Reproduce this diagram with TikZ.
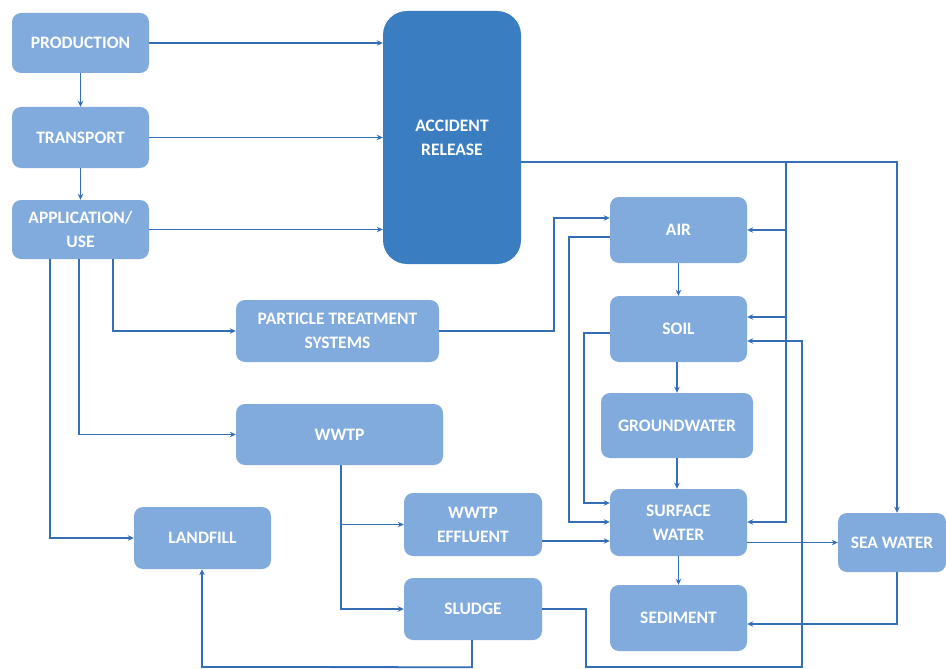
\documentclass[tikz,border=0pt]{standalone}
\usepackage{fontspec}
\setmainfont{Carlito}
\usetikzlibrary{arrows.meta,calc}
\definecolor{boxlight}{RGB}{128,171,220}
\definecolor{boxdark}{RGB}{58,125,192}
\definecolor{linec}{RGB}{52,110,182}
\tikzset{
  bx/.style={draw=none,fill=boxlight,rounded corners=9pt,text=white,align=center,
    font=\bfseries\fontsize{17.5}{24}\selectfont,inner sep=0pt},
  conn/.style={draw=linec,line width=1.8pt},
  arr/.style={conn,-{Stealth[length=6pt,width=5.5pt]}},
}
\begin{document}
\begin{tikzpicture}[x=1pt,y=-1pt]
\useasboundingbox (0,0) rectangle (946,669);
\fill[white] (0,0) rectangle (946,669);
% nodes
\node[bx,minimum width=137pt,minimum height=60pt] (prod) at (80.5,43) {PRODUCTION};
\node[bx,minimum width=137pt,minimum height=61pt] (trans) at (80.5,137.5) {TRANSPORT};
\node[bx,minimum width=137pt,minimum height=59pt] (app) at (80.5,229.5) {APPLICATION/\\USE};
\node[bx,fill=boxdark,rounded corners=24pt,minimum width=138pt,minimum height=253pt] (acc) at (452,137.5) {ACCIDENT\\RELEASE};
\node[bx,minimum width=203pt,minimum height=62pt] (pts) at (337.5,331) {PARTICLE TREATMENT\\SYSTEMS};
\node[bx,minimum width=207pt,minimum height=61pt] (wwtp) at (339.5,434.5) {WWTP};
\node[bx,minimum width=137pt,minimum height=62pt] (land) at (202.5,538) {LANDFILL};
\node[bx,minimum width=138pt,minimum height=63pt] (eff) at (473,524.5) {WWTP\\EFFLUENT};
\node[bx,minimum width=138pt,minimum height=62pt] (sludge) at (473,609) {SLUDGE};
\node[bx,minimum width=137pt,minimum height=66pt] (air) at (678.5,230) {AIR};
\node[bx,minimum width=137pt,minimum height=66pt] (soil) at (678.5,329) {SOIL};
\node[bx,minimum width=152pt,minimum height=65pt] (gw) at (677,425.5) {GROUNDWATER};
\node[bx,minimum width=137pt,minimum height=67pt] (sw) at (678.5,522.5) {SURFACE\\WATER};
\node[bx,minimum width=137pt,minimum height=66pt] (sed) at (678.5,618) {SEDIMENT};
\node[bx,minimum width=108pt,minimum height=59pt] (sea) at (892,542.5) {SEA WATER};
% left chain
\draw[arr] (prod.south) -- (trans.north);
\draw[arr] (trans.south) -- (app.north);
\draw[arr] (prod.east) -- (prod.east -| acc.west);
\draw[arr] (trans.east) -- (trans.east -| acc.west);
\draw[arr] (app.east) -- (app.east -| acc.west);
\draw[arr] ($(app.south)+(-30.5,0)$) |- (land.west);
\draw[arr] ($(app.south)+(-1.5,0)$) |- (wwtp.west);
\draw[arr] ($(app.south)+(32.5,0)$) |- (pts.west);
% PTS to air
\coordinate (ptsa) at (554,331);
\draw[arr] (pts.east) -- (ptsa) |- ($(air.west)+(0,-12)$);
% air to surface water
\coordinate (airl) at (569,237);
\draw[arr] ($(air.west)+(0,7)$) -- (airl) |- ($(sw.west)+(0,-0.5)$);
% soil to surface water
\coordinate (soill) at (584,333);
\draw[arr] ($(soil.west)+(0,4)$) -- (soill) |- ($(sw.west)+(0,-19.5)$);
% effluent to surface water
\draw[arr] ($(eff.east)+(0,16.5)$) -- ($(sw.west)+(0,18.5)$);
% vertical chain
\draw[arr] (air.south) -- (soil.north);
\draw[arr] ($(soil.south)+(-1.5,0)$) -- (gw.north);
\draw[arr] (gw.south) -- ($(sw.north)+(-1.5,0)$);
\draw[arr] (sw.south) -- (sed.north);
% WWTP split
\coordinate (wsplit) at (341,465);
\draw[arr] (wwtp.south -| wsplit) |- (eff.west);
\draw[arr] (wwtp.south -| wsplit) |- (sludge.west);
% surface water to sea
\draw[arr] (sea.west -| sw.east) -- (sea.west);
% sea to sediment
\draw[arr] ($(sea.south)+(5,0)$) |- ($(sed.east)+(0,6)$);
% accident release distribution
\coordinate (accr) at (897,162);
\coordinate (br) at (786,162);
\draw[arr] ($(acc.east)+(0,24.5)$) -- (accr) -- ($(sea.north)+(5,0)$);
\draw[arr] (br) |- ($(sw.east)+(0,-0.5)$);
\draw[arr] (air.east -| br) -- (air.east);
\draw[arr] ($(soil.east)+(39.5,-12)$) -- ($(soil.east)+(0,-12)$);
% sludge to soil
\coordinate (sl1) at (586,667);
\coordinate (sl2) at (802,667);
\draw[arr] (sludge.east) -| (sl1) -- (sl2) |- ($(soil.east)+(0,12)$);
% sludge to landfill
\coordinate (sl3) at (202,667);
\draw[arr] ($(sludge.south)+(-1,0)$) -- ($(sludge.south)+(-1,27)$) -- (sl3) -- ($(land.south)+(-0.5,0)$);
\end{tikzpicture}
\end{document}
